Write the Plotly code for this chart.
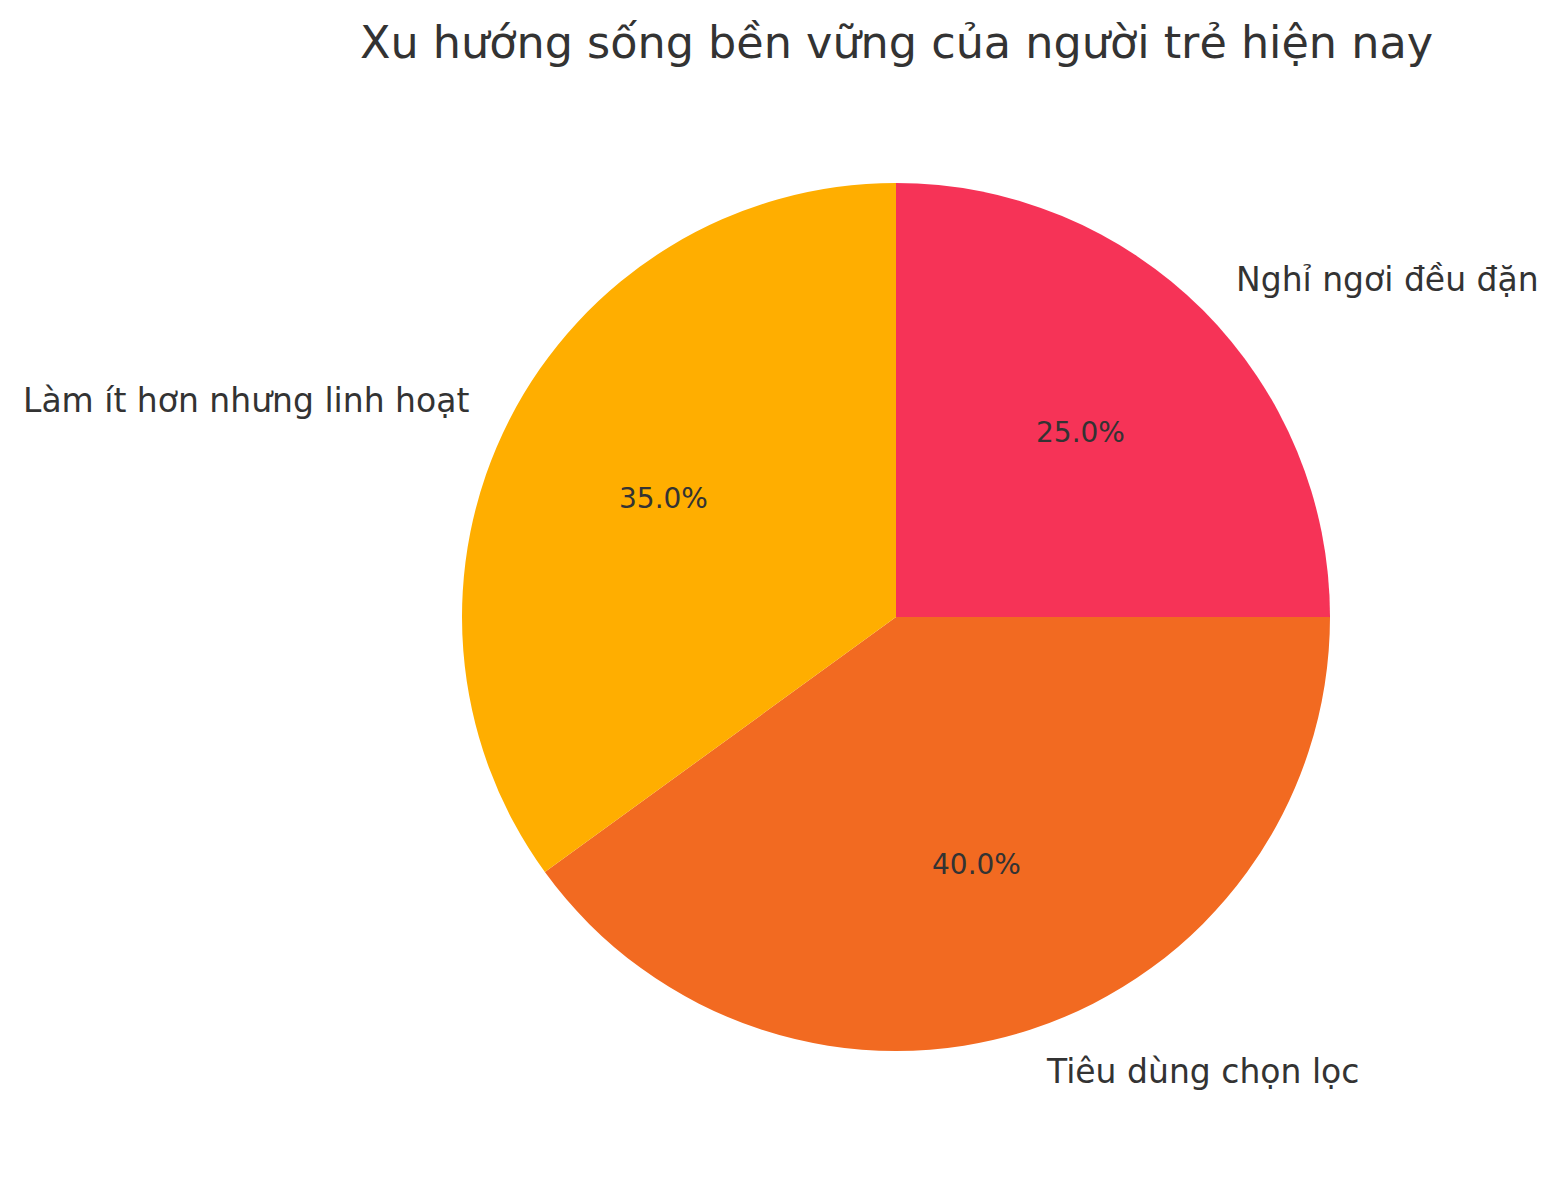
import math
import plotly.graph_objects as go

# ── DATA ────────────────────────────────────────────────────────
labels = ['Nghỉ ngơi đều đặn', 'Tiêu dùng chọn lọc', 'Làm ít hơn nhưng linh hoạt']
values = [25, 40, 35]
colors = ['#F63357', '#F26A21', '#FFAE00']
title = 'Xu hướng sống bền vững của người trẻ hiện nay'

# ── LAYOUT GEOMETRY (screen pixels) ─────────────────────────────
OFF = 8                      # page body margin
W, H = 1560 - 2 * OFF, 1180 - 2 * OFF
cx, cy, r = 896, 617, 434
font = 'DejaVu Sans'
text_color = '#333333'


def px(x):
    return (x - OFF) / W


def py(y):
    return 1 - (y - OFF) / H


dom_x = [px(cx - r), px(cx + r)]
dom_y = [py(cy + r), py(cy - r)]

fig = go.Figure(go.Pie(
    labels=labels,
    values=values,
    sort=False,
    direction='clockwise',
    rotation=0,
    marker=dict(colors=colors, line=dict(width=0)),
    textinfo='none',
    hoverinfo='label+percent',
    showlegend=False,
    domain=dict(x=dom_x, y=dom_y),
))

# labels at 1.1r, percentages at 0.6r (matplotlib style)
annotations = []
total = sum(values)
start = 90.0
for lab, v in zip(labels, values):
    sweep = v / total * 360
    mid = math.radians(start - sweep / 2)
    start -= sweep
    c, s = math.cos(mid), math.sin(mid)
    annotations.append(dict(
        x=px(cx + 1.1 * r * c), y=py(cy - 1.1 * r * s),
        xref='paper', yref='paper', text=lab, showarrow=False,
        xanchor='left' if c > 0 else 'right', yanchor='middle',
        font=dict(family=font, size=33, color=text_color),
    ))
    annotations.append(dict(
        x=px(cx + 0.6 * r * c), y=py(cy - 0.6 * r * s),
        xref='paper', yref='paper', text=f'{v / total * 100:.1f}%',
        showarrow=False, xanchor='center', yanchor='middle',
        font=dict(family=font, size=28, color=text_color),
    ))

annotations.append(dict(
    x=px(cx), y=py(42), xref='paper', yref='paper', text=title,
    showarrow=False, xanchor='center', yanchor='middle',
    font=dict(family=font, size=44.5, color=text_color),
))

fig.update_layout(
    width=W, height=H,
    margin=dict(l=0, r=0, t=0, b=0),
    paper_bgcolor='white',
    plot_bgcolor='white',
    annotations=annotations,
)
fig.write_html('out.html')
